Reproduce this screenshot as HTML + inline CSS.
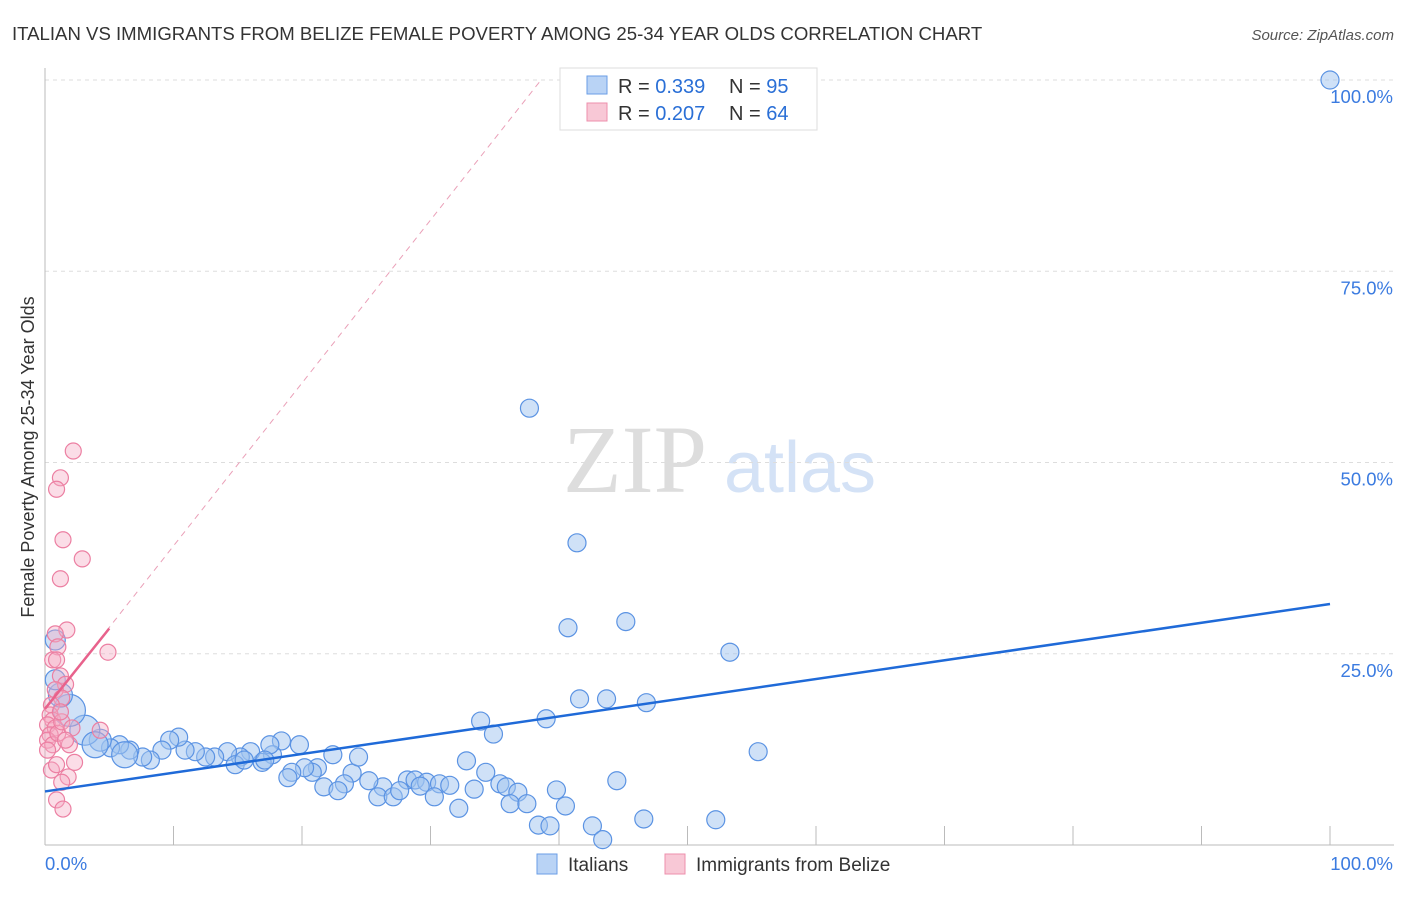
<!DOCTYPE html>
<html><head><meta charset="utf-8"><style>
body{margin:0;background:#fff;font-family:"Liberation Sans",sans-serif}
</style></head><body>
<svg width="1406" height="892" id="c" style="font-family:'Liberation Sans',sans-serif">
<text x="12" y="40" font-size="18.6" fill="#333">ITALIAN VS IMMIGRANTS FROM BELIZE FEMALE POVERTY AMONG 25-34 YEAR OLDS CORRELATION CHART</text>
<text x="1394" y="40" font-size="15" fill="#555" font-style="italic" text-anchor="end">Source: ZipAtlas.com</text>
<text x="635" y="492" font-size="96" fill="#ddd" font-family="Liberation Serif,serif" text-anchor="middle">ZIP</text>
<text x="800" y="492" font-size="72" fill="#d4e2f6" text-anchor="middle">atlas</text>
<text transform="translate(34,457) rotate(-90)" font-size="18" fill="#333" text-anchor="middle">Female Poverty Among 25-34 Year Olds</text>
<g id="grid"></g><g id="marks"></g>
<g>
<rect x="560" y="68" width="257" height="62" fill="#fff" stroke="#ddd"/>
<rect x="587" y="76" width="20" height="18" fill="#b9d3f5" stroke="#6a9ee6"/>
<rect x="587" y="103" width="20" height="18" fill="#f8c8d6" stroke="#ee8fac"/>
<text x="618" y="93" font-size="20" fill="#333">R = <tspan fill="#2a6fd6">0.339</tspan></text>
<text x="729" y="93" font-size="20" fill="#333">N = <tspan fill="#2a6fd6">95</tspan></text>
<text x="618" y="120" font-size="20" fill="#333">R = <tspan fill="#2a6fd6">0.207</tspan></text>
<text x="729" y="120" font-size="20" fill="#333">N = <tspan fill="#2a6fd6">64</tspan></text>
</g>
<g>
<rect x="537" y="854" width="20" height="20" fill="#b9d3f5" stroke="#6a9ee6"/>
<text x="568" y="871" font-size="19" fill="#333">Italians</text>
<rect x="665" y="854" width="20" height="20" fill="#f8c8d6" stroke="#ee8fac"/>
<text x="696" y="871" font-size="19" fill="#333">Immigrants from Belize</text>
</g>
</svg>
<script>
const yTicks=[25,50,75,100];
const yTickLabels=["25.0%","50.0%","75.0%","100.0%"];
const xTicks=[0,10,20,30,40,50,60,70,80,90,100];
const blueX=[100,37.7,41.4,40.7,45.2,53.3,41.6,43.7,46.8,39.0,33.9,34.9,55.5,32.8,34.3,44.5,28.2,28.8,29.7,30.7,31.5,33.4,35.4,35.9,36.8,39.8,29.2,30.3,32.2,36.2,37.5,40.5,38.4,39.3,42.6,43.4,46.6,52.2,26.3,25.9,27.1,27.6,25.2,23.9,24.4,22.4,23.3,21.7,22.8,21.2,20.8,20.2,19.2,18.9,19.8,18.4,17.7,16.9,16.0,15.2,14.2,14.8,13.2,12.5,11.7,10.9,10.4,9.7,9.1,8.2,7.6,6.6,5.8,5.1,4.3,3.1,1.9,1.2,0.8,0.8,17.5,17.1,15.5,6.2,3.9];
const blueY=[100,57.1,39.5,28.4,29.2,25.2,19.1,19.1,18.6,16.5,16.2,14.5,12.2,11.0,9.5,8.4,8.5,8.5,8.2,8.0,7.8,7.3,8.0,7.6,6.9,7.2,7.7,6.3,4.8,5.4,5.4,5.1,2.6,2.5,2.5,0.7,3.4,3.3,7.6,6.3,6.3,7.1,8.4,9.4,11.5,11.8,8.0,7.6,7.1,10.1,9.5,10.1,9.5,8.8,13.1,13.6,11.8,10.8,12.2,11.5,12.2,10.5,11.5,11.5,12.2,12.4,14.1,13.7,12.4,11.1,11.5,12.4,13.1,12.7,13.7,15.0,17.6,19.6,21.6,26.8,13.1,11.1,11.1,11.8,13.1];
const blueSize=[9,9,9,9,9,9,9,9,9,9,9,9,9,9,9,9,9,9,9,9,9,9,9,9,9,9,9,9,9,9,9,9,9,9,9,9,9,9,9,9,9,9,9,9,9,9,9,9,9,9,9,9,9,9,9,9,9,9,9,9,9,9,9,9,9,9,9,9,9,9,9,9,9,9,11,15,16,12,10,10,9,9,9,13,13];
const pinkX=[2.2,1.2,0.9,1.4,2.9,1.2,1.7,0.8,4.9,1.0,0.6,0.9,1.2,1.6,0.8,1.3,0.5,0.4,0.6,0.2,0.8,0.4,0.2,0.6,1.0,1.3,1.9,2.1,4.3,2.3,0.5,0.9,1.8,1.3,0.9,1.4,0.2,1.2,1.6];
const pinkY=[51.5,48.0,46.5,39.9,37.4,34.8,28.1,27.6,25.2,25.9,24.2,24.2,22.1,21.0,20.3,19.2,18.3,17.0,16.3,15.7,15.3,14.4,13.7,13.1,14.6,16.1,13.1,15.3,15.0,10.8,9.8,10.5,8.9,8.2,5.9,4.7,12.4,17.4,13.7];
const blueLine=[[0,7.0],[100,31.5]];
const pinkSolid=[[0,17.8],[5,28.3]];
const pinkDash=[[0,17.8],[38.6,100]];
const X=v=>45+v*12.85, Y=v=>845-v*7.65;
const NS="http://www.w3.org/2000/svg";
function mk(t,a,p){const e=document.createElementNS(NS,t);for(const k in a)e.setAttribute(k,a[k]);p.appendChild(e);return e;}
const g=document.getElementById('grid'), m=document.getElementById('marks');
yTicks.forEach((t,i)=>{
 const l=mk('line',{x1:45,x2:1394,y1:Y(t),y2:Y(t),stroke:'#ddd','stroke-dasharray':'4,4'},g);
 
 
 const tx=mk('text',{x:1393,y:Y(t)+23,'font-size':18.5,fill:'#3b7be0','text-anchor':'end'},g);
 tx.textContent=yTickLabels[i];
 
 
});
mk('line',{x1:45,x2:45,y1:68,y2:845,stroke:'#bbb'},g);
mk('line',{x1:45,x2:1394,y1:845,y2:845,stroke:'#bbb'},g);
xTicks.forEach(t=>{const l=mk('line',{x1:X(t),x2:X(t),y1:826,y2:845,stroke:'#bbb'},g);
 
 });
const x0=mk('text',{x:45,y:870,'font-size':18.5,fill:'#3b7be0'},g);x0.textContent='0.0%';


const x1=mk('text',{x:1393,y:870,'font-size':18.5,fill:'#3b7be0','text-anchor':'end'},g);x1.textContent='100.0%';


blueX.forEach((v,i)=>{const c=mk('circle',{cx:X(v),cy:Y(blueY[i]),r:blueSize[i],fill:'rgba(160,195,240,0.5)',stroke:'#5b93e3','stroke-width':1.2},m);
 
 });
pinkX.forEach((v,i)=>{const c=mk('circle',{cx:X(v),cy:Y(pinkY[i]),r:8,fill:'rgba(245,170,195,0.4)',stroke:'#ec7fa2','stroke-width':1.2},m);
 
 });
const d=mk('line',{x1:X(pinkDash[0][0]),y1:Y(pinkDash[0][1]),x2:X(pinkDash[1][0]),y2:Y(pinkDash[1][1]),stroke:'#eaa0b8','stroke-dasharray':'6,5','stroke-width':1},m);


const ps=mk('line',{x1:X(pinkSolid[0][0]),y1:Y(pinkSolid[0][1]),x2:X(pinkSolid[1][0]),y2:Y(pinkSolid[1][1]),stroke:'#e8628c','stroke-width':2.5},m);


const bl=mk('line',{x1:X(blueLine[0][0]),y1:Y(blueLine[0][1]),x2:X(blueLine[1][0]),y2:Y(blueLine[1][1]),stroke:'#1f6ad8','stroke-width':2.5},m);


</script>
</body></html>
